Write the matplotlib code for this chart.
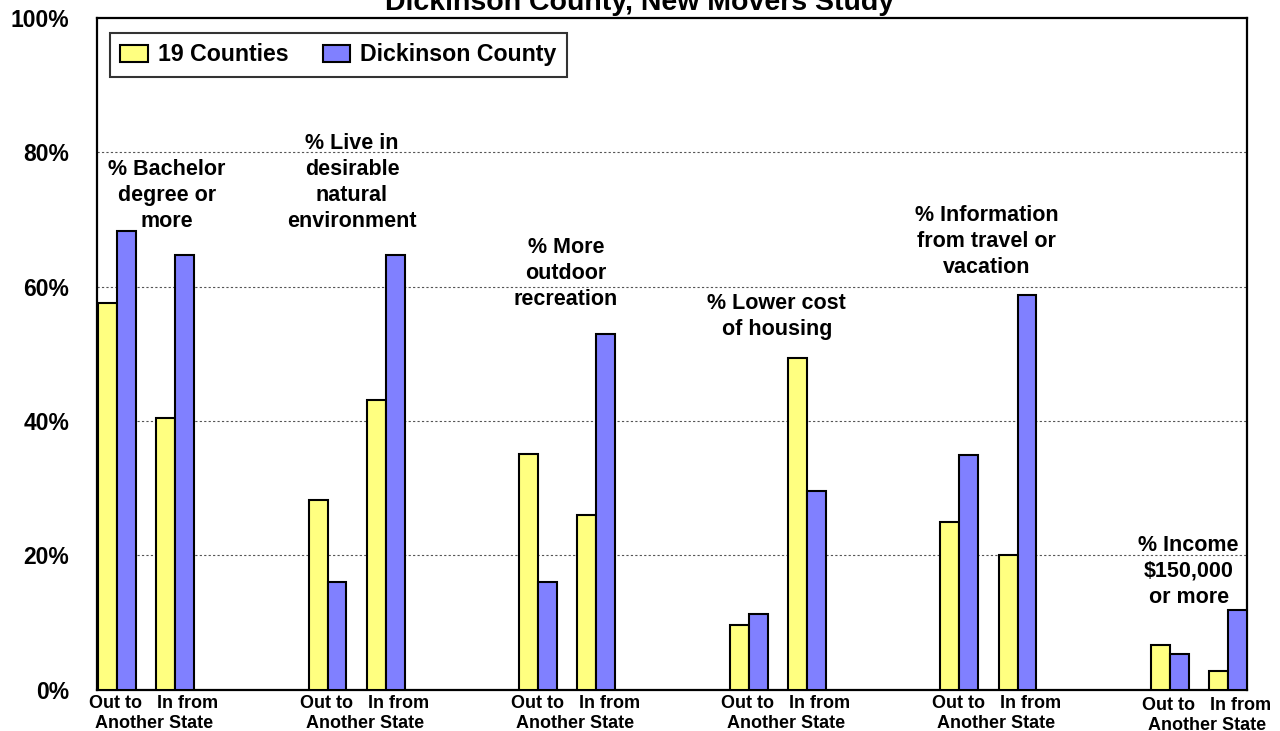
import numpy as np
import matplotlib
matplotlib.use('Agg')
import matplotlib.pyplot as plt

plt.rcParams['font.family'] = ['Liberation Sans', 'DejaVu Sans']
plt.rcParams['font.weight'] = 'bold'

# %% data (percent)
topics = ['% Bachelor\ndegree or\nmore',
          '% Live in\ndesirable\nnatural\nenvironment',
          '% More\noutdoor\nrecreation',
          '% Lower cost\nof housing',
          '% Information\nfrom travel or\nvacation',
          '% Income\n$150,000\nor more']
series = ['19 Counties', 'Dickinson County']
out_19 = [57.6, 28.2, 35.1, 9.6, 24.9, 6.7]
out_dk = [68.3, 16.0, 16.0, 11.2, 35.0, 5.3]
in_19 = [40.5, 43.1, 26.0, 49.4, 20.1, 2.7]
in_dk = [64.7, 64.7, 53.0, 29.5, 58.8, 11.8]
pair_label = 'Out to   In from\nAnother State'

# %% layout
yellow = '#FFFF80'
blue = '#8080FF'
bw = 0.09
in_off = 0.277
g = np.arange(len(topics))

# topic label anchors (x in group units, y in %)
lab_x = [0.237, 1.116, 2.132, 3.134, 4.131, 5.09]
lab_y = [73.6, 75.5, 62.0, 55.5, 66.7, 17.6]

fig = plt.figure(figsize=(12.8, 7.31), dpi=100)
ax = fig.add_axes([97 / 1280, 41.4 / 731, 1150 / 1280, 671.6 / 731])

kw = dict(width=bw, edgecolor='black', linewidth=1.5, zorder=3)
ax.bar(g - bw / 2, out_19, color=yellow, label=series[0], **kw)
ax.bar(g + bw / 2, out_dk, color=blue, label=series[1], **kw)
ax.bar(g + in_off - bw / 2, in_19, color=yellow, **kw)
ax.bar(g + in_off + bw / 2, in_dk, color=blue, **kw)

ax.set_xlim(-0.095, 5.367)
ax.set_ylim(0, 100)
ax.set_yticks([0, 20, 40, 60, 80, 100])
ax.set_yticklabels(['0%', '20%', '40%', '60%', '80%', '100%'], fontsize=16.5, fontweight='bold')
ax.tick_params(axis='y', length=0, pad=20)
ax.set_xticks([])
for yv in [20, 40, 60, 80]:
    ax.axhline(yv, color='#555555', lw=0.8, ls=(0, (2, 2)), zorder=1)
for s in ax.spines.values():
    s.set_linewidth(1.6)
    s.set_color('black')

# topic labels
for i, t in enumerate(topics):
    ax.text(lab_x[i], lab_y[i], t, ha='center', va='center', fontsize=15.5,
            fontweight='bold', linespacing=1.32, zorder=4)

# x labels under each pair
tr = ax.get_xaxis_transform()
for i in g:
    dy = 0.003 if i == 5 else 0
    ax.text(i + 0.176, -0.036 - dy, pair_label, transform=tr, ha='center', va='center',
            fontsize=13, fontweight='bold', linespacing=1.25, clip_on=False)

leg = ax.legend(loc='upper left', bbox_to_anchor=(110 / 1280, 1 - 33 / 731),
                bbox_transform=fig.transFigure, ncol=2, fontsize=16.7, frameon=True,
                fancybox=False, edgecolor='black', handlelength=1.2,
                handleheight=0.78, columnspacing=1.45, handletextpad=0.43,
                borderpad=0.45, borderaxespad=0)
leg.get_frame().set_linewidth(1.5)
for txt in leg.get_texts():
    txt.set_fontweight('bold')

fig.text(0.5, 1 - 10 / 731, 'Dickinson County, New Movers Study', ha='center',
         va='baseline', fontsize=20.5, fontweight='bold')

fig.savefig('out.png', dpi=100)
